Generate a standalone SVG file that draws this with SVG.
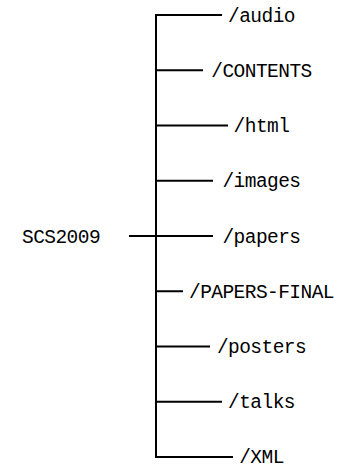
<svg xmlns="http://www.w3.org/2000/svg" width="344" height="467" viewBox="0 0 344 467">
  <style>
    .lbl { font-family: "Liberation Mono", "DejaVu Sans Mono", monospace; font-size: 19.5px; letter-spacing: -0.55px; fill: #000; }
    .dir { text-anchor: middle; }
    .ln { stroke: #000; stroke-width: 2; fill: none; stroke-linecap: butt; }
  </style>
  <rect width="344" height="467" fill="#fff"/>

  <!-- tree connectors: trunk, root stub and one branch per directory -->
  <g id="connectors">
    <path class="ln" d="M156 14V458"/>
    <path class="ln" d="M129 236H156"/>
    <path class="ln" d="M155 15H222"/>
    <path class="ln" d="M156 70.25H203"/>
    <path class="ln" d="M156 125.5H228"/>
    <path class="ln" d="M156 180.75H213"/>
    <path class="ln" d="M156 236H213"/>
    <path class="ln" d="M156 291.25H183"/>
    <path class="ln" d="M156 346.5H210"/>
    <path class="ln" d="M156 401.75H222"/>
    <path class="ln" d="M155 457H233"/>
  </g>

  <g id="root"><text class="lbl" x="22" y="243">SCS2009</text></g>
  <g id="audio"><text class="lbl dir" x="261.5" y="21.5">/audio</text></g>
  <g id="contents"><text class="lbl dir" x="261.5" y="76.75">/CONTENTS</text></g>
  <g id="html"><text class="lbl dir" x="261.5" y="132">/html</text></g>
  <g id="images"><text class="lbl dir" x="261.5" y="187.25">/images</text></g>
  <g id="papers"><text class="lbl dir" x="261.5" y="242.5">/papers</text></g>
  <g id="papers-final"><text class="lbl dir" x="261.5" y="297.75">/PAPERS-FINAL</text></g>
  <g id="posters"><text class="lbl dir" x="261.5" y="353">/posters</text></g>
  <g id="talks"><text class="lbl dir" x="261.5" y="408.25">/talks</text></g>
  <g id="xml"><text class="lbl dir" x="261.5" y="463">/XML</text></g>
</svg>
